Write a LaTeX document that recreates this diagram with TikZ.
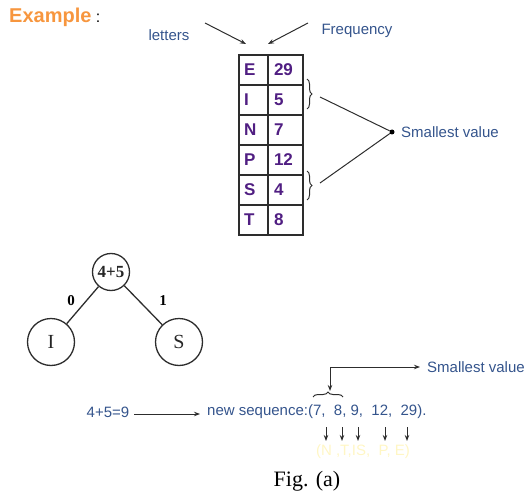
\documentclass[tikz,border=0pt]{standalone}
\usepackage{fontspec}
\setmainfont{Liberation Serif}
\newfontfamily\arialf{Liberation Sans}
\usetikzlibrary{arrows.meta,decorations.pathreplacing}
\definecolor{lblue}{RGB}{52,84,140}
\definecolor{tpurple}{RGB}{80,30,130}
\definecolor{exorange}{RGB}{247,150,62}
\definecolor{paleyel}{RGB}{255,246,196}
\definecolor{linegray}{RGB}{45,45,45}
\begin{document}
\begin{tikzpicture}[x=1pt,y=-1pt,
  lbl/.style={font=\arialf\fontsize{15}{17}\selectfont, text=lblue, inner sep=0pt},
  cellL/.style={draw=linegray, line width=1.2pt, minimum height=30pt, text width=19pt,
    inner xsep=5pt, inner ysep=0pt, align=left,
    font=\arialf\bfseries\fontsize{17}{19}\selectfont, text=tpurple},
  cellR/.style={cellL, text width=23pt, inner xsep=6pt},
  tnode/.style={circle, draw=linegray, line width=1.3pt, inner sep=0pt, text=black!85},
  arr/.style={-{Stealth[length=6pt,width=4.5pt]}, line width=1pt, draw=linegray},
  bline/.style={line width=1pt, draw=linegray},
  brc/.style={decorate, decoration={brace, amplitude=5pt}, line width=1pt, draw=linegray},
  tedge/.style={line width=1.3pt, draw=linegray},
]
\useasboundingbox (0,0) rectangle (532,497);

% title
\node[anchor=west, inner sep=0pt, font=\arialf\bfseries\fontsize{20}{22}\selectfont, text=exorange] (ex) at (9,17) {Example};
\node[anchor=base west, inner sep=0pt, font=\arialf\fontsize{16}{18}\selectfont] (colon) at ([xshift=4pt]ex.base east) {:};

% header labels
\node[lbl] (letters) at (169,35) {letters};
\node[lbl] (freq) at (357,31) {Frequency};
\coordinate (la) at (205,23);
\coordinate (lb) at (246,44);
\coordinate (fa) at (308,23);
\coordinate (fb) at (268,44);
\draw[arr] (la) -- (lb);
\draw[arr] (fa) -- (fb);

% table
\node[cellL] (cE) at (253.5,70) {E};  \node[cellR] (fE) at (285.5,70) {29};
\node[cellL] (cI) at (253.5,100) {I}; \node[cellR] (fI) at (285.5,100) {5};
\node[cellL] (cN) at (253.5,130) {N}; \node[cellR] (fN) at (285.5,130) {7};
\node[cellL] (cP) at (253.5,160) {P}; \node[cellR] (fP) at (285.5,160) {12};
\node[cellL] (cS) at (253.5,190) {S}; \node[cellR] (fS) at (285.5,190) {4};
\node[cellL] (cT) at (253.5,220) {T}; \node[cellR] (fT) at (285.5,220) {8};

% braces and smallest value
\coordinate (b1a) at (307,79);
\coordinate (b1b) at (307,109);
\coordinate (b2a) at (307,171);
\coordinate (b2b) at (307,200);
\draw[brc] (b1a) -- (b1b);
\draw[brc] (b2a) -- (b2b);
\coordinate (b1t) at (320,97);
\coordinate (b2t) at (320,183);
\node[circle, fill=black, inner sep=0pt, minimum size=5pt] (dot) at (392,132) {};
\draw[bline] (b1t) -- (dot);
\draw[bline] (b2t) -- (dot);
\node[lbl, anchor=west] (sv1) at (401,132) {Smallest value};

% tree
\node[tnode, minimum size=37pt, font=\bfseries\fontsize{17}{19}\selectfont] (root) at (111,272) {4+5};
\node[tnode, minimum size=47pt, font=\fontsize{20}{22}\selectfont] (nI) at (51,342) {I};
\node[tnode, minimum size=47pt, font=\fontsize{20}{22}\selectfont] (nS) at (179,342) {S};
\draw[tedge] (root) -- (nI);
\draw[tedge] (root) -- (nS);
\node[font=\bfseries\fontsize{15}{17}\selectfont, inner sep=0pt] (l0) at (71,301) {0};
\node[font=\bfseries\fontsize{15}{17}\selectfont, inner sep=0pt] (l1) at (163,301) {1};

% bottom sequence
\node[lbl] (eq) at (108,412) {4+5=9};
\node[lbl, anchor=west] (seq) at (207,412) {new sequence:(7,\ \ 8, 9,\ \ 12,\ \ 29).};
\draw[arr] ([xshift=5pt,yshift=-2pt]eq.east) -- ([xshift=-7pt,yshift=-2pt]seq.west);

\coordinate (s1) at (313,397);
\coordinate (s2) at (343,397);
\draw[brc] (s1) -- (s2);
\coordinate (bt) at (330,391);
\coordinate (sve) at (420,367);
\draw[bline, {Stealth[length=6pt,width=4.5pt]}-{Stealth[length=6pt,width=4.5pt]}] (bt) |- (sve);
\node[lbl, anchor=west] (sv2) at (427,367) {Smallest value};

\foreach \i/\x in {1/326,2/342,3/358,4/385,5/407}{
  \coordinate (sa\i) at (\x,427);
  \coordinate (sb\i) at (\x,441);
  \draw[arr] (sa\i) -- (sb\i);
}
\node[lbl, text=paleyel] (yel) at (363,452) {(N ,T,IS,\ \ P, E)};

\node[font=\fontsize{22}{24}\selectfont, inner sep=0pt] (fig) at (307,481) {Fig. (a)};
\end{tikzpicture}
\end{document}
